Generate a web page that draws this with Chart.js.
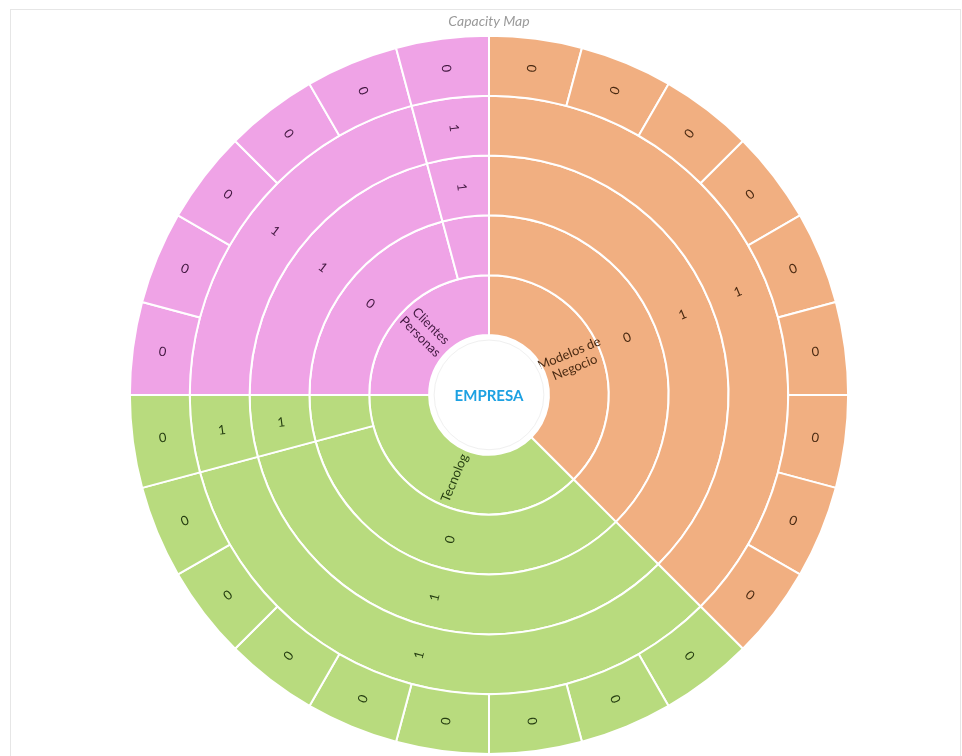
<!DOCTYPE html>
<html>
<head>
<meta charset="utf-8">
<script src="https://cdn.jsdelivr.net/npm/chart.js@4/dist/chart.umd.min.js"></script>
<style>
  html, body { margin: 0; padding: 0; background: #fff; }
  .frame { position: absolute; left: 10px; top: 9px; width: 949px; height: 800px; border: 1px solid #e6e6e6; }
  .wrap { position: absolute; left: 0; top: 0; width: 962px; height: 756px; }
</style>
</head>
<body>
<div class="frame"></div>
<div class="wrap"><canvas id="capMap"></canvas></div>
<script>
// --- dati (unità = 1/24 di giro, cioè 15°) ---
// anello 1: aree principali
const areaLabels = [["Modelos de", "Negocio"], ["Tecnolog"], ["Clientes", "Personas"]];
const areaValues = [9, 9, 6];
const areaKeys   = ["neg", "tec", "cli"];

// anelli 2-4: stessi segmenti (grande + piccolo per tecnologia e clienti)
const midKeys    = ["neg", "tec", "tec", "cli", "cli"];
const midValues  = [9, 8, 1, 5, 1];
const ring2Labels = ["0", "0", "", "0", ""];
const ring3Labels = ["1", "1", "1", "1", "1"];
const ring4Labels = ["1", "1", "1", "1", "1"];

// anello 5: foglie
const leafKeys = [
  "neg","neg","neg","neg","neg","neg","neg","neg","neg",
  "tec","tec","tec","tec","tec","tec","tec","tec","tec",
  "cli","cli","cli","cli","cli","cli"
];
const leafValues = [1,1,1,1,1,1,1,1,1, 1,1,1,1,1,1,1,1,1, 1,1,1,1,1,1];
const leafLabels = ["0","0","0","0","0","0","0","0","0", "0","0","0","0","0","0","0","0","0", "0","0","0","0","0","0"];

const FILL = { neg: "#F1AF81", tec: "#B8DB7E", cli: "#EFA3E6" };
const INK  = { neg: "#4A2A12", tec: "#263E12", cli: "#421840" };
const FONT = "Lato, 'Open Sans', sans-serif";

function ring(values, keys, labels){
  return {
    data: values,
    backgroundColor: keys.map(k => FILL[k]),
    labelColors: keys.map(k => INK[k]),
    labelText: labels,
    borderColor: "#FFFFFF", borderWidth: 2
  };
}

// primo dataset = anello esterno
const datasets = [
  ring(leafValues, leafKeys, leafLabels),
  ring(midValues, midKeys, ring4Labels),
  ring(midValues, midKeys, ring3Labels),
  ring(midValues, midKeys, ring2Labels),
  ring(areaValues, areaKeys, areaLabels)
];

// etichette radiali su ogni spicchio
const arcLabels = {
  id: "arcLabels",
  afterDatasetsDraw(chart){
    const ctx = chart.ctx;
    chart.data.datasets.forEach((ds, i) => {
      const meta = chart.getDatasetMeta(i);
      meta.data.forEach((arc, j) => {
        const txt = ds.labelText[j];
        if (!txt || (Array.isArray(txt) && !txt.length)) return;
        const lines = Array.isArray(txt) ? txt : [txt];
        const p = arc.getProps(["x", "y", "startAngle", "endAngle", "innerRadius", "outerRadius"], true);
        const mid = (p.startAngle + p.endAngle) / 2;
        const r = (p.innerRadius + p.outerRadius) / 2;
        let rot = mid;
        if (Math.cos(mid) < -1e-6) rot += Math.PI; // mai testo capovolto
        ctx.save();
        ctx.translate(p.x + Math.cos(mid) * r, p.y + Math.sin(mid) * r);
        ctx.rotate(rot);
        ctx.fillStyle = ds.labelColors[j];
        ctx.font = "13px " + FONT;
        ctx.textAlign = "center";
        ctx.textBaseline = "middle";
        const lh = 15;
        lines.forEach((l, k) => ctx.fillText(l, 0, (k - (lines.length - 1) / 2) * lh));
        ctx.restore();
      });
    });
  }
};

// cerchio centrale con "EMPRESA"
const centerLabel = {
  id: "centerLabel",
  afterDraw(chart){
    const meta = chart.getDatasetMeta(chart.data.datasets.length - 1);
    const a = meta.data[0];
    if (!a) return;
    const p = a.getProps(["x", "y", "innerRadius"], true);
    const ctx = chart.ctx;
    ctx.save();
    ctx.beginPath();
    ctx.arc(p.x, p.y, p.innerRadius - 1, 0, Math.PI * 2);
    ctx.fillStyle = "#FFFFFF";
    ctx.fill();
    ctx.beginPath();
    ctx.arc(p.x, p.y, p.innerRadius - 5, 0, Math.PI * 2);
    ctx.strokeStyle = "#F0F0F0";
    ctx.lineWidth = 1;
    ctx.stroke();
    ctx.fillStyle = "#1DA1E2";
    ctx.font = "bold 15px " + FONT;
    ctx.textAlign = "center";
    ctx.textBaseline = "middle";
    ctx.fillText("EMPRESA", p.x, p.y + 1);
    ctx.restore();
  }
};

new Chart(document.getElementById("capMap"), {
  type: "doughnut",
  data: { labels: leafLabels, datasets },
  options: {
    responsive: true, maintainAspectRatio: false, animation: false,
    cutout: "16.67%",
    layout: { padding: { left: 26, right: 10, bottom: 1, top: 0 } },
    plugins: {
      legend: { display: false },
      tooltip: { enabled: false },
      title: {
        display: true, text: "Capacity Map", color: "#9A9A9A",
        font: { family: FONT, size: 14, style: "italic", weight: "normal" },
        padding: { top: 13, bottom: 5 }
      }
    }
  },
  plugins: [arcLabels, centerLabel]
});
</script>
</body>
</html>
